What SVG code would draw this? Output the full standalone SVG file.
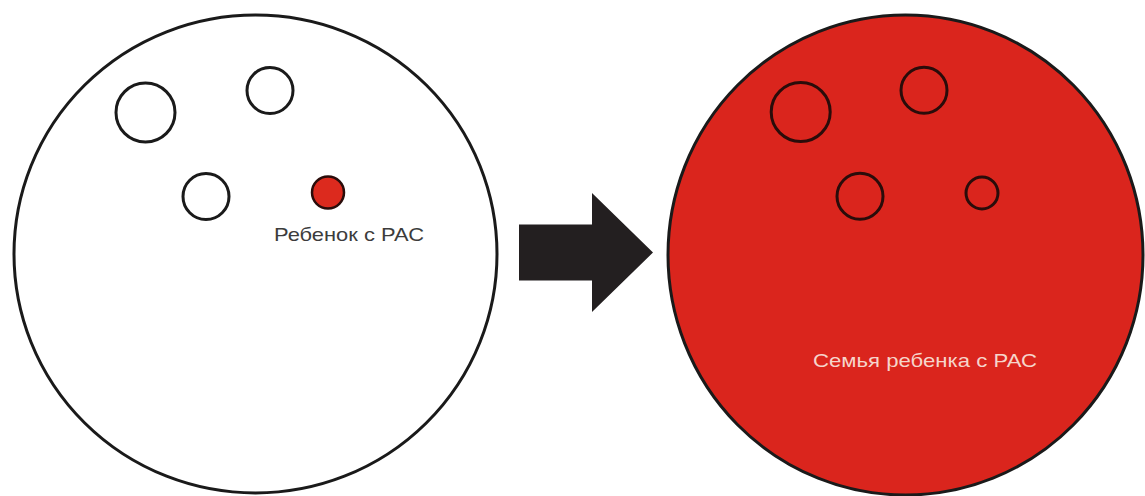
<svg xmlns="http://www.w3.org/2000/svg" width="1145" height="496" viewBox="0 0 1145 496">
  <style>
    .big { stroke: #1a1a1a; stroke-width: 3; }
    .small { fill: none; stroke: #1a1a1a; stroke-width: 3; }
    .smallr { fill: none; stroke: #2a0c0a; stroke-width: 3; }
    .lbl { font-family: "Liberation Sans", Arial, sans-serif; font-size: 19px; }
  </style>
  <rect x="0" y="0" width="1145" height="496" fill="#ffffff"/>
  <g id="left-group">
    <ellipse class="big" cx="255.5" cy="254" rx="241.5" ry="239" fill="#ffffff"/>
    <circle class="small" cx="145.5" cy="112.5" r="29.5"/>
    <circle class="small" cx="270" cy="90.5" r="23"/>
    <circle class="small" cx="206" cy="196.5" r="23"/>
    <circle cx="328" cy="192.5" r="16" fill="#dc2a1e" stroke="#2a0c0a" stroke-width="2.5"/>
    <text class="lbl" x="274" y="241" fill="#3c3c3c" textLength="150" lengthAdjust="spacingAndGlyphs">Ребенок с РАС</text>
  </g>
  <g id="connectors">
    <polygon points="519,224.5 592,224.5 592,193 653,252.5 592,312 592,280.5 519,280.5" fill="#231f20"/>
  </g>
  <g id="right-group">
    <ellipse class="big" cx="905.5" cy="255" rx="237.5" ry="240" fill="#da251d"/>
    <circle class="smallr" cx="800.7" cy="112" r="29.5"/>
    <circle class="smallr" cx="924" cy="90.3" r="23"/>
    <circle class="smallr" cx="860" cy="196.3" r="23"/>
    <circle class="smallr" cx="982" cy="193" r="16"/>
    <text class="lbl" x="813" y="367" fill="#f6d5cb" textLength="224" lengthAdjust="spacingAndGlyphs">Семья ребенка с РАС</text>
  </g>
</svg>
